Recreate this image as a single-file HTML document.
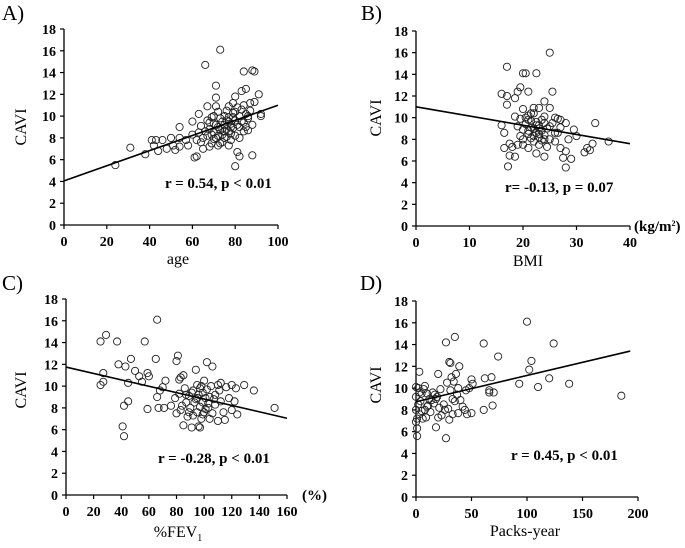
<!DOCTYPE html>
<html><head><meta charset="utf-8">
<style>
html,body{margin:0;padding:0;background:#fff;}
svg{display:block;font-family:"Liberation Serif",serif;}
.tick{font-size:14px;font-weight:bold;}
.stat{font-size:15px;font-weight:bold;}
.title{font-size:16px;}
.plabel{font-size:21px;}
</style></head>
<body>
<svg id="chart" width="685" height="548" viewBox="0 0 685 548"></svg>
<script>
// Panel A: age vs CAVI
const ageX=[24,31,38,41,42,43,44,46,48,50,51,52,54,54,54,57,58,60,60,61,62,62,63,63,64,64,65,65,66,67,67,67,68,68,69,69,70,70,70,71,71,71,71,72,72,72,73,73,73,74,74,75,75,75,76,76,76,77,77,77,78,78,78,79,79,79,80,80,80,80,81,81,81,82,82,82,83,83,84,84,84,85,85,85,86,86,87,87,88,88,88,89,89,91,92,92,76,74,70,69,79,83,77,73,66,68,72,75,78,80,82,84,86,71,74,77];
const ageY=[5.5,7.1,6.5,7.8,7.3,7.8,6.8,7.8,7.0,8.0,7.3,6.9,9.0,8.0,7.2,7.8,7.3,8.3,9.5,6.2,6.3,7.8,8.5,10.2,9.1,7.6,7.0,8.0,14.7,9.6,10.9,8.2,7.2,8.8,9.9,7.5,8.5,7.9,9.3,12.8,11.7,10.9,8.0,10.4,9.0,7.3,16.1,8.7,9.8,8.3,7.6,9.2,10.0,8.0,10.5,9.6,8.8,7.3,9.9,10.9,8.4,9.3,7.8,11.2,10.3,8.9,5.4,11.8,9.6,8.2,6.7,10.8,9.2,6.3,8.0,10.0,12.3,9.5,11.0,8.6,14.1,12.5,10.2,9.0,8.7,9.8,11.2,10.5,14.2,6.4,9.2,14.1,11.3,12.0,10.0,10.2,8.1,9.5,10.0,8.3,9.9,10.6,8.6,7.5,8.6,9.4,8.2,8.6,9.0,10.4,9.0,9.4,10.0,9.2,8.8,9.5];
const ageFit=[4.05,11.0];
// Panel B: BMI vs CAVI
const bmiX=[16,16,16.5,16.5,17,17,17,17.2,17.5,17.5,18,18.5,18.5,18.5,19,19,19.5,19.5,20,20,20,20,20.5,20.5,21,21,21,21,21.5,21.5,22,22,22,22.5,22.5,22.5,23,23,23,23,23.5,23.5,24,24,24,24,24.5,24.5,25,25,25,25.5,25.5,26,26,26.5,27,27,27.5,28,28,28,28.5,29,29.5,30,31.5,32,32.5,33,33.5,36,19.5,20.5,21.5,22,22.5,23,23.5,24,26,27,19,20,21,25,26.5,21,22,23,24,22.5,21.5];
const bmiY=[9.3,12.2,8.6,7.2,14.7,11.2,12.0,5.5,6.5,7.6,7.3,11.8,10.1,6.4,12.4,7.5,12.8,9.9,14.1,10.8,8.9,8.0,14.1,9.4,12.4,10.2,8.5,7.2,9.7,8.1,10.4,9.0,7.8,14.1,8.6,6.7,10.9,9.3,8.2,7.5,9.8,8.8,11.5,10.1,6.4,8.4,9.0,7.3,16.0,10.9,8.0,12.4,9.5,10.0,7.8,8.6,9.8,7.2,6.3,9.5,5.4,6.9,8.0,6.2,8.9,8.3,6.8,7.2,7.0,7.6,9.5,7.8,8.3,10.0,9.1,10.9,9.6,8.5,7.9,9.5,8.6,9.1,9.2,7.5,9.8,9.2,9.9,8.8,8.3,9.0,8.0,9.3,10.4];
const bmiFit=[11.0,7.6];
// Panel C: %FEV1 vs CAVI
const fevX=[25,25,27,27,29,37,38,41,42,42,43,45,45,47,50,53,55,57,59,59,60,65,66,66,67,68,70,71,72,76,79,80,80,81,82,82,83,83,85,85,86,87,88,89,90,91,92,92,94,94,95,95,96,96,97,97,98,98,99,99,100,100,101,102,102,103,104,105,106,106,108,108,110,110,112,112,114,115,116,118,120,120,122,123,124,129,136,151,93,97,101,89,104,84,107,95,99,103,91,87,111];
const fevY=[14.1,10.1,11.2,10.4,14.7,14.1,12.0,6.3,5.4,8.2,11.8,10.3,8.6,12.5,11.4,10.9,10.4,14.1,11.2,7.9,10.9,12.5,16.1,9.0,8.0,9.6,9.9,8.0,10.5,8.2,8.9,12.3,7.5,12.8,10.6,9.3,10.8,7.8,11.0,6.4,9.8,8.5,7.2,9.1,8.0,6.2,9.6,7.3,11.5,8.8,10.1,7.6,6.3,9.2,6.2,8.1,10.0,7.0,9.4,8.5,10.5,7.6,8.9,12.2,9.7,8.0,7.0,10.0,11.8,7.5,9.2,8.3,10.1,6.8,10.3,8.6,7.6,6.9,9.9,8.9,10.1,7.8,8.6,9.8,7.4,10.1,9.6,8.0,8.5,9.8,7.9,7.6,9.0,8.2,8.8,8.9,7.4,8.4,9.4,9.2,9.6];
const fevFit=[11.75,7.05];
// Panel D: Packs-year vs CAVI
const packX=[0,0,0,0,1,1,1,2,2,3,3,4,5,6,7,8,8,9,10,10,12,13,15,16,18,18,20,20,22,23,25,27,27,28,30,30,31,31,32,33,34,35,35,36,37,38,38,39,42,44,45,46,48,50,50,51,61,61,62,66,66,68,69,70,74,93,100,102,104,110,120,124,138,185,14,19,26,40,5,3,11,17,21,29,33];
const packY=[6.9,8.0,10.1,9.2,6.3,5.6,7.2,8.5,10.0,11.5,7.6,8.8,9.5,7.2,9.9,10.2,8.0,7.3,9.5,8.3,9.0,7.8,9.6,8.6,6.4,9.0,11.3,7.3,9.9,7.5,8.5,14.2,5.4,10.5,12.4,7.1,12.3,9.8,11.0,7.6,10.6,14.7,8.8,11.3,9.4,10.0,7.7,12.0,8.3,8.0,9.8,7.6,10.0,10.8,7.7,10.4,14.1,8.0,10.9,9.8,9.6,11.0,8.4,9.6,12.9,10.4,16.1,11.7,12.5,10.1,10.9,14.1,10.4,9.3,8.9,9.2,8.0,8.9,7.9,9.6,8.4,9.4,8.2,8.1,9.0];
const packFit=[8.75,13.4];
const yTicks=[0,2,4,6,8,10,12,14,16,18];

const NS="http://www.w3.org/2000/svg";
const svg=document.getElementById('chart');
function mk(tag,attrs,parent,text){const e=document.createElementNS(NS,tag);for(const k in attrs)e.setAttribute(k,attrs[k]);if(text!==undefined)e.textContent=text;(parent||svg).appendChild(e);return e;}

function panel(p){
  const g=mk('g',{});
  
  
  const sx=v=>p.x0+(v-p.xmin)/(p.xmax-p.xmin)*(p.x1-p.x0);
  const sy=v=>p.y0-(v/18)*(p.y0-p.y1);
  const lab=mk('text',{x:p.lx,y:p.ly,class:'plabel'},g,p.label);
  
  
  const ya=mk('line',{x1:p.x0,y1:p.y0,x2:p.x0,y2:p.y1,stroke:'#000','stroke-width':1.3},g);
  
  
  const xa=mk('line',{x1:p.x0,y1:p.y0,x2:p.x1,y2:p.y0,stroke:'#000','stroke-width':1.3},g);
  
  
  yTicks.forEach(t=>{
    mk('line',{x1:p.x0-4,y1:sy(t),x2:p.x0,y2:sy(t),stroke:'#000','stroke-width':1.2},g);
    const tl=mk('text',{x:p.x0-8,y:sy(t)+5,class:'tick','text-anchor':'end'},g,t);
    
    
  });
  p.xt.forEach(t=>{
    mk('line',{x1:sx(t),y1:p.y0,x2:sx(t),y2:p.y0+4,stroke:'#000','stroke-width':1.2},g);
    const tl=mk('text',{x:sx(t),y:p.y0+21,class:'tick','text-anchor':'middle'},g,t);
    
    
  });
  for(let i=0;i<p.xs.length;i++){
    const c=mk('circle',{cx:sx(p.xs[i]),cy:sy(p.ys[i]),r:3.6,fill:'none',stroke:'#222','stroke-width':0.9},g);
    
    
  }
  const fl=mk('line',{x1:sx(p.fitFrom),y1:sy(p.fit[0]),x2:sx(p.fitTo),y2:sy(p.fit[1]),stroke:'#000','stroke-width':1.6},g);
  
  
  const st=mk('text',{x:p.sx,y:p.sy,class:'stat'},g,p.stat);
  
  
  const yt=mk('text',{x:0,y:0,class:'title','text-anchor':'middle',transform:`translate(${p.yx},${p.yy}) rotate(-90)`},g,'CAVI');
  
  
  const xt=mk('text',{x:p.tx,y:p.ty,class:'title','text-anchor':'middle'},g);
  
  
  xt.innerHTML=p.xtitle;
  if(p.unit){
    const u=mk('text',{x:p.ux,y:p.uy,class:'stat','font-size':p.ufs||'14px'},g);
    
    
    u.innerHTML=p.unit;
  }
}
panel({name:'panel-a-age',label:'A)',lx:2,ly:20,x0:64,x1:278,y0:225,y1:29,xmin:0,xmax:100,xt:[0,20,40,60,80,100],xs:ageX,ys:ageY,fit:ageFit,fitFrom:0,fitTo:100,stat:'r = 0.54, p < 0.01',sx:165,sy:188,yx:26,yy:127,tx:178,ty:264,xtitle:'age'});
panel({name:'panel-b-bmi',label:'B)',lx:361,ly:20,x0:416,x1:630,y0:226,y1:31,xmin:0,xmax:40,xt:[0,10,20,30,40],xs:bmiX,ys:bmiY,fit:bmiFit,fitFrom:0,fitTo:40,stat:'r= -0.13, p = 0.07',sx:505,sy:192,yx:381,yy:118,tx:528,ty:266,xtitle:'BMI',unit:'(kg/m<tspan font-size="8" dy="-5">2</tspan><tspan dy="5">)</tspan>',ux:634,uy:231,ufs:'12.5px'});
panel({name:'panel-c-fev1',label:'C)',lx:2,ly:290,x0:66,x1:287,y0:495,y1:299,xmin:0,xmax:160,xt:[0,20,40,60,80,100,120,140,160],xs:fevX,ys:fevY,fit:fevFit,fitFrom:0,fitTo:160,stat:'r = -0.28, p < 0.01',sx:158,sy:463,yx:26,yy:390,tx:178,ty:537,xtitle:'%FEV<tspan font-size="10" dy="4">1</tspan>',unit:'(%)',ux:302,uy:500});
panel({name:'panel-d-packs-year',label:'D)',lx:360,ly:290,x0:416,x1:638,y0:497,y1:301,xmin:0,xmax:200,xt:[0,50,100,150,200],xs:packX,ys:packY,fit:packFit,fitFrom:0,fitTo:193,stat:'r = 0.45, p < 0.01',sx:511,sy:460,yx:381,yy:385,tx:525,ty:536,xtitle:'Packs-year'});
</script>
</body></html>
